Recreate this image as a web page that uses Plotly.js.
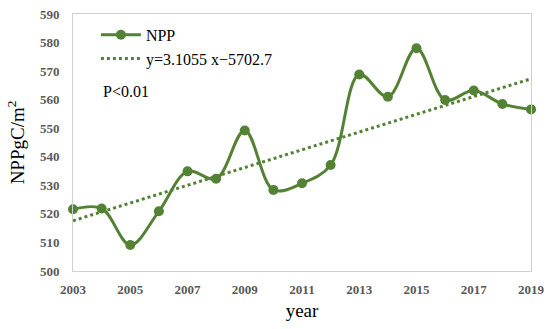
<!DOCTYPE html>
<html>
<head>
<meta charset="utf-8">
<script src="https://cdn.plot.ly/plotly-3.0.1.min.js"></script>
<style>html,body{margin:0;padding:0;background:#fff;}#chart{width:550px;height:329px;}</style>
</head>
<body>
<div id="chart"></div>
<script>
const years = [2003,2004,2005,2006,2007,2008,2009,2010,2011,2012,2013,2014,2015,2016,2017,2018,2019];
const npp = [521.6,521.9,509.1,520.9,534.9,532.3,549.2,528.4,530.7,537.1,568.8,561.0,578.0,559.9,563.2,558.5,556.6];
const trendYears = [2003, 2019];
const trendValues = [517.6, 567.3];
const tickYears = [2003,2005,2007,2009,2011,2013,2015,2017,2019];
const yTicks = [500,510,520,530,540,550,560,570,580,590];

const green = '#548235';
const traces = [
  {x: years, y: npp, name: 'NPP', type: 'scatter', mode: 'lines+markers',
   line: {color: green, width: 3, shape: 'spline', smoothing: 1},
   marker: {color: green, size: 10}, cliponaxis: false},
  {x: trendYears, y: trendValues, name: 'y=3.1055 x\u22125702.7', type: 'scatter', mode: 'lines',
   line: {color: green, width: 3, dash: 'dot'}}
];
const tickFont = {family: 'Liberation Serif', size: 13, color: '#595959', weight: 'bold'};
const layout = {
  width: 550, height: 329,
  margin: {l: 73, r: 19, t: 14, b: 58},
  paper_bgcolor: '#fff', plot_bgcolor: '#fff',
  showlegend: true,
  legend: {x: 0.05, y: 0.985, xanchor: 'left', yanchor: 'top', bgcolor: 'rgba(0,0,0,0)',
    itemwidth: 40,
    font: {family: 'Liberation Serif', size: 16, color: '#000'}, tracegroupgap: 0},
  xaxis: {range: [2003, 2019], tickvals: tickYears, ticktext: tickYears.map(String),
    showgrid: false, zeroline: false, showline: true, mirror: true, linecolor: '#d0d0d0', linewidth: 1,
    ticks: '', ticklabelstandoff: 6, tickfont: tickFont,
    title: {text: 'year', font: {family: 'Liberation Serif', size: 19, color: '#000'}, standoff: 8}},
  yaxis: {range: [500, 590], tickvals: yTicks, showgrid: false, zeroline: false,
    showline: true, mirror: true, linecolor: '#d0d0d0', linewidth: 1,
    ticks: '', ticklabelstandoff: 10, tickfont: tickFont,
    title: {text: 'NPPgC/m<sup>2</sup>', font: {family: 'Liberation Serif', size: 19, color: '#000'}, standoff: 10}},
  annotations: [{xref: 'paper', yref: 'paper', x: 0.062, y: 0.70, xanchor: 'left', yanchor: 'middle',
    text: 'P<0.01', showarrow: false, font: {family: 'Liberation Serif', size: 16, color: '#000'}}]
};
Plotly.newPlot('chart', traces, layout, {displayModeBar: false, staticPlot: true});
</script>
</body>
</html>
